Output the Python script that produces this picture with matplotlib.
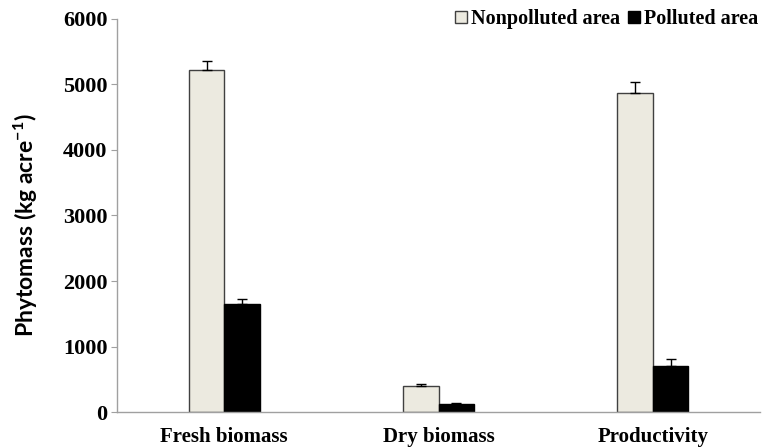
import matplotlib
matplotlib.use("Agg")
import matplotlib.pyplot as plt
import numpy as np

categories = ["Fresh biomass", "Dry biomass", "Productivity"]
nonpolluted = [5220, 400, 4870]
nonpolluted_err = [130, 30, 170]
polluted = [1650, 120, 710]
polluted_err = [75, 25, 100]
y_ticks = [0, 1000, 2000, 3000, 4000, 5000, 6000]

plt.rcParams["mathtext.fontset"] = "custom"
plt.rcParams["mathtext.rm"] = "Lato:bold"
plt.rcParams["mathtext.bf"] = "Lato:bold"
plt.rcParams["mathtext.default"] = "bf"

fig = plt.figure(figsize=(7.7, 4.48), dpi=100)
ax = fig.add_axes([0.152, 0.080, 0.835, 0.878])

x = np.arange(len(categories))
w = 0.165
ekw = dict(ecolor="black", capsize=3.6, elinewidth=1.0, capthick=1.0)
ax.bar(x - w/2, nonpolluted, w, color="#ECEAE0", edgecolor="#404040", linewidth=1.0,
       yerr=[np.zeros(3), nonpolluted_err], error_kw=ekw,
       label="Nonpolluted area", zorder=2)
ax.bar(x + w/2, polluted, w, color="black", edgecolor="black", linewidth=1.0,
       yerr=[np.zeros(3), polluted_err], error_kw=ekw,
       label="Polluted area", zorder=2)

ax.set_xlim(-0.5, 2.5)
ax.set_ylim(0, 6000)
ax.set_yticks(y_ticks)
ax.set_xticks(x)
ax.set_xticklabels(categories)

for s in ["top", "right"]:
    ax.spines[s].set_visible(False)
for s in ["left", "bottom"]:
    ax.spines[s].set_color("#A0A0A0")
    ax.spines[s].set_linewidth(1.0)

ax.tick_params(axis="y", direction="out", length=4, color="#A0A0A0", pad=3)
ax.tick_params(axis="x", length=0, pad=11)
for lab in ax.get_yticklabels():
    lab.set_fontfamily("Liberation Serif")
    lab.set_fontweight("bold")
    lab.set_fontsize(16)
for lab in ax.get_xticklabels():
    lab.set_fontfamily("Liberation Serif")
    lab.set_fontweight("bold")
    lab.set_fontsize(15)

ax.set_ylabel("Phytomass (kg acre$^{-1}$)", fontsize=16.5, fontweight="bold",
              fontfamily="Lato", labelpad=10)
ax.yaxis.set_label_coords(-0.12, 0.475)

leg = ax.legend(loc="upper right", bbox_to_anchor=(1.01, 1.045), ncol=2, frameon=False,
                prop=dict(family="Liberation Serif", weight="bold", size=14.5),
                handlelength=0.6, handleheight=0.6, handletextpad=0.2, columnspacing=0.4,
                borderaxespad=0)

fig.savefig("out.png", dpi=100)
